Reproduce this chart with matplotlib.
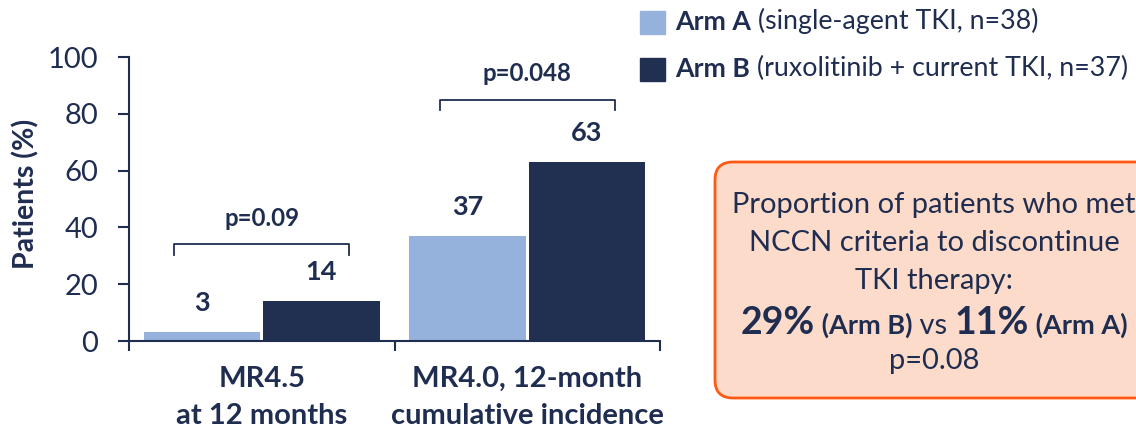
import matplotlib
matplotlib.use("Agg")
import matplotlib.pyplot as plt
from matplotlib.patches import FancyBboxPatch, Rectangle
import numpy as np

plt.rcParams['font.family'] = ['Lato', 'DejaVu Sans']

categories = ["MR4.5\nat 12 months", "MR4.0, 12-month\ncumulative incidence"]
arm_a = [3, 37]
arm_b = [14, 63]
p_values = ["p=0.09", "p=0.048"]
legend_bold = ["Arm A", "Arm B"]
legend_rest = [" (single-agent TKI, n=38)", " (ruxolitinib + current TKI, n=37)"]
yticks = [0, 20, 40, 60, 80, 100]

C_A = "#95b2dd"
C_B = "#212f51"
TXT = "#1f2d50"

W, H = 1136, 430
fig = plt.figure(figsize=(W / 100, H / 100), dpi=100)
ax = fig.add_axes([129 / W, 1 - 341 / H, (660 - 129) / W, (341 - 57) / H])

x = np.arange(len(categories))
bw = 0.44
off = 0.225
ax.bar(x - off, arm_a, bw, color=C_A, zorder=2)
ax.bar(x + off, arm_b, bw, color=C_B, zorder=2)

for xi, v in zip(x - off, arm_a):
    ax.text(xi, v + 6, str(v), ha='center', va='bottom', fontsize=19.5, fontweight='bold', color=TXT)
for xi, v in zip(x + off, arm_b):
    ax.text(xi, v + 6, str(v), ha='center', va='bottom', fontsize=19.5, fontweight='bold', color=TXT)

# significance brackets
for xi, a, b, p in zip(x, arm_a, arm_b, p_values):
    top = max(a, b)
    yb = top + 20 if xi == 0 else top + 22
    ax.plot([xi - 0.33, xi - 0.33, xi + 0.33, xi + 0.33], [yb - 3.6, yb, yb, yb - 3.6],
            color=TXT, lw=1.3, clip_on=False)
    ax.text(xi, yb + 5, p, ha='center', va='bottom', fontsize=17.3, fontweight='bold', color=TXT)

ax.set_xlim(-0.5, 1.5)
ax.set_ylim(0, 100)
ax.set_yticks(yticks)
ax.set_xticks(x)
ax.set_xticklabels(categories, fontsize=21, fontweight='bold', color=TXT, linespacing=1.5)
ax.set_xticks([-0.5, 0.5, 1.5], minor=True)
ax.tick_params(axis='x', which='major', length=0, pad=18)
ax.tick_params(axis='x', which='minor', length=7.5, width=1.5, color=TXT, direction='out')
ax.tick_params(axis='y', length=8, width=1.5, color=TXT, labelsize=21, labelcolor=TXT, pad=14)
for s in ['top', 'right']:
    ax.spines[s].set_visible(False)
for s in ['left', 'bottom']:
    ax.spines[s].set_color(TXT)
    ax.spines[s].set_linewidth(1.5)

fig.text(26 / W, 1 - 194 / H, "Patients (%)", rotation=90, ha='center', va='center',
         fontsize=20.5, fontweight='bold', color=TXT)

# overlay axes in pixel coordinates
ov = fig.add_axes([0, 0, 1, 1])
ov.set_xlim(0, W)
ov.set_ylim(H, 0)
ov.axis('off')
ov.patch.set_visible(False)

# legend
for i, (c, bt, rt) in enumerate(zip([C_A, C_B], legend_bold, legend_rest)):
    cy = 22 + i * 47
    ov.add_patch(Rectangle((640, cy - 11.5), 25, 23, color=c))
    t1 = ov.text(675, cy, bt, ha='left', va='center', fontsize=19.3, fontweight='bold', color=TXT)
    ov.annotate(rt, xy=(1, 0), xycoords=t1, ha='left', va='bottom', fontsize=19.3, color=TXT)

# box
ov.add_patch(FancyBboxPatch((715, 162), 500, 236, boxstyle="round,pad=0,rounding_size=18",
                            facecolor="#fddbcb", edgecolor="#ff5a14", lw=2.0, clip_on=False))

cx = 934
renderer = fig.canvas.get_renderer()

def runs_line(runs, cy):
    texts = []
    for s, wt, fs in runs:
        t = ov.text(0, cy, s, ha='left', va='baseline', fontsize=fs, fontweight=wt, color=TXT)
        texts.append(t)
    widths = [t.get_window_extent(renderer).width for t in texts]
    total = sum(widths)
    xs = cx - total / 2
    for t, w in zip(texts, widths):
        t.set_x(xs)
        xs += w

BOX_FS = 21
lines = ["Proportion of patients who met", "NCCN criteria to discontinue", "TKI therapy:"]
for i, s in enumerate(lines):
    runs_line([(s, 'normal', BOX_FS)], 213 + i * 38)
runs_line([("29%", 'bold', 27), (" (Arm B)", 'bold', 19.5), (" vs ", 'normal', BOX_FS),
           ("11%", 'bold', 27), (" (Arm A)", 'bold', 19.5)], 334)
runs_line([("p=0.08", 'normal', BOX_FS)], 369)

fig.savefig("out.png", dpi=100)
